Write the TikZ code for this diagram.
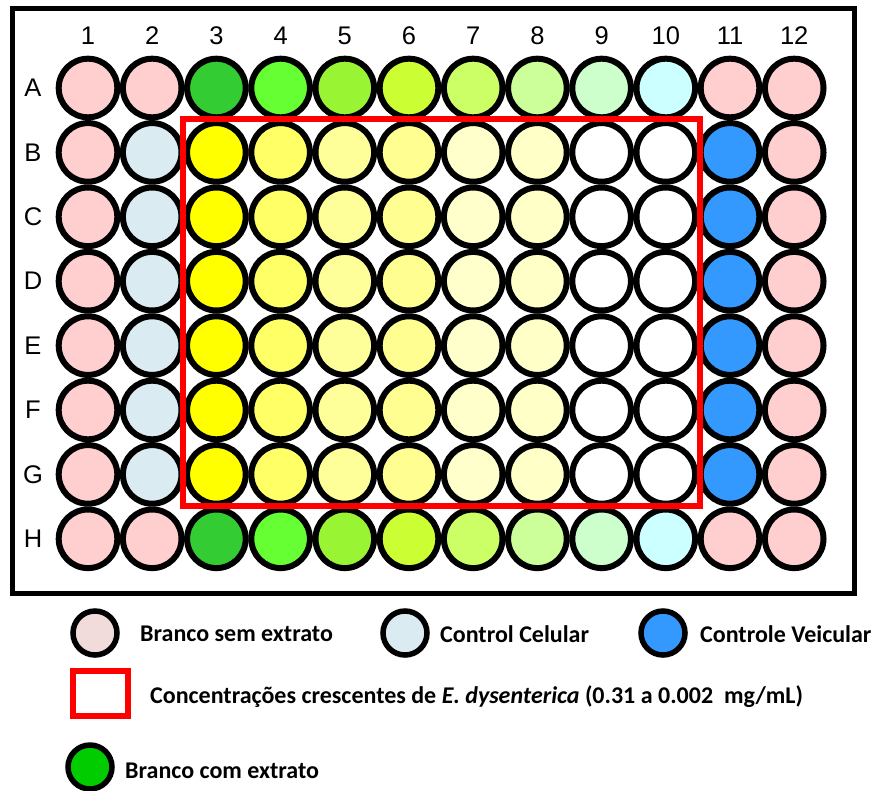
\documentclass[tikz,border=0pt]{standalone}
\usepackage{fontspec}
\newfontfamily\labfont{Liberation Sans}
\newfontfamily\legfont{Carlito}
\definecolor{pinkw}{HTML}{FFCFCF}
\definecolor{bluew}{HTML}{DAEBF2}
\definecolor{vblue}{HTML}{3399FF}
\definecolor{legpink}{HTML}{F2DCDB}
\definecolor{leggreen}{HTML}{00CC00}
\definecolor{gA}{HTML}{33CC33}
\definecolor{gB}{HTML}{66FF33}
\definecolor{gC}{HTML}{99F533}
\definecolor{gD}{HTML}{CCFF33}
\definecolor{gE}{HTML}{CCFF66}
\definecolor{gF}{HTML}{CCFF99}
\definecolor{gG}{HTML}{CCFFCC}
\definecolor{gH}{HTML}{CCFFFF}
\definecolor{yA}{HTML}{FFFF00}
\definecolor{yB}{HTML}{FFFF66}
\definecolor{yC}{HTML}{FFFF99}
\definecolor{yD}{HTML}{FFFF91}
\definecolor{yE}{HTML}{FFFFCC}
\definecolor{yF}{HTML}{FFFFC8}
\begin{document}
\begin{tikzpicture}[x=1pt,y=-1pt,
  well/.style={circle,draw=black,line width=6pt,minimum size=58.6pt,inner sep=0pt},
  legwell/.style={circle,draw=black,line width=5.5pt,minimum size=44pt,inner sep=0pt},
  axlab/.style={font=\labfont\fontsize{25.5}{30}\selectfont,inner sep=0pt},
  legtext/.style={font=\legfont\bfseries\fontsize{24}{28}\selectfont,anchor=west,inner sep=0pt},
  redbox/.style={draw=red,line width=6pt}]
\useasboundingbox (0,0) rectangle (874,790);
\fill[white] (0,0) rectangle (874,790);
% plate frame
\draw[line width=5pt] (12,8.5) rectangle (854,593.5);
% column labels
\foreach \c in {1,...,12}{
  \node[axlab] (col\c) at ({88+(\c-1)*64.2},36) {\c};
}
% row labels
\foreach \r/\n in {A/0,B/1,C/2,D/3,E/4,F/5,G/6,H/7}{
  \node[axlab] (row\r) at (33,{88+\n*64.4}) {\r};
}
% wells
\foreach \r/\n in {A/0,B/1,C/2,D/3,E/4,F/5,G/6,H/7}{
  \foreach \c in {1,...,12}{
    \pgfmathtruncatemacro{\edge}{(\n==0)||(\n==7)}
    \ifnum\edge=1
      \ifcase\c\or\def\fc{pinkw}\or\def\fc{pinkw}\or\def\fc{gA}\or\def\fc{gB}\or\def\fc{gC}\or\def\fc{gD}\or\def\fc{gE}\or\def\fc{gF}\or\def\fc{gG}\or\def\fc{gH}\or\def\fc{pinkw}\or\def\fc{pinkw}\fi
    \else
      \ifcase\c\or\def\fc{pinkw}\or\def\fc{bluew}\or\def\fc{yA}\or\def\fc{yB}\or\def\fc{yC}\or\def\fc{yD}\or\def\fc{yE}\or\def\fc{yF}\or\def\fc{white}\or\def\fc{white}\or\def\fc{vblue}\or\def\fc{pinkw}\fi
    \fi
    \node[well,fill=\fc] (w-\r-\c) at ({88+(\c-1)*64.2},{88+\n*64.4}) {};
  }
}
% red region
\draw[redbox] (182.5,119) rectangle (700,506);
% legend
\node[legwell,fill=legpink] (l1) at (95,633) {};
\node[legtext] (t1) at (140,634) {Branco sem extrato};
\node[legwell,fill=bluew] (l2) at (405,633) {};
\node[legtext] (t2) at (440,634) {Control Celular};
\node[legwell,fill=vblue] (l3) at (663,633) {};
\node[legtext] (t3) at (700,634) {Controle Veicular};
\draw[redbox] (72.5,670.5) rectangle (127.5,715.5);
\node[legtext] (t4) at (150,697) {Concentrações crescentes de \textit{E. dysenterica} (0.31 a 0.002~ mg/mL)};
\node[legwell,fill=leggreen] (l5) at (90,767) {};
\node[legtext] (t5) at (125,771) {Branco com extrato};
\end{tikzpicture}
\end{document}
